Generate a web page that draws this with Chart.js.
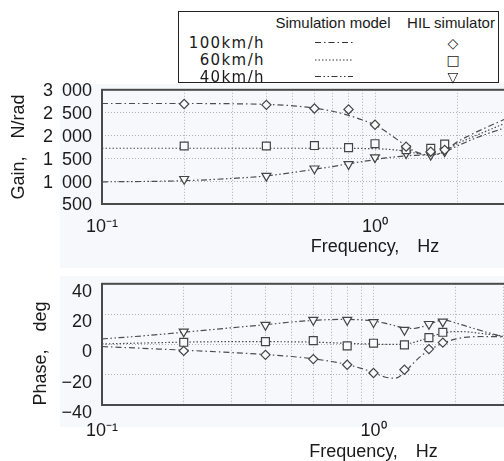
<!DOCTYPE html>
<html>
<head>
<meta charset="utf-8">
<script src="https://cdn.jsdelivr.net/npm/chart.js@4.4.0/dist/chart.umd.min.js"></script>
<style>
  body { margin: 0; width: 504px; height: 461px; overflow: hidden; position: relative; background: #fff; font-family: "Liberation Sans", Arial, sans-serif; color: #1a1a1a; }
  .tint { position: absolute; left: 60px; width: 444px; background: #f6f8fb; }
  .wrap { position: absolute; left: 0; }
  #legend { position: absolute; left: 178px; top: 11px; width: 319px; height: 70px; border: 1px solid #222; background: #fff; }
  #legend span { position: absolute; white-space: nowrap; line-height: 1; }
  .head { font-size: 15px; transform: translate(-50%, -50%); }
  .speed { font-family: "DejaVu Sans", sans-serif; font-size: 15px; letter-spacing: 1.4px; transform: translate(-100%, -50%); }
  .mark { font-family: "DejaVu Sans", sans-serif; font-size: 14px; transform: translate(-50%, -50%); }
  #legendLines { position: absolute; left: 130px; top: 0; }
</style>
</head>
<body>
<div class="tint" style="top:84px;height:184px"></div>
<div class="tint" style="top:276px;height:151px"></div>
<div class="wrap" style="top:69px"><canvas id="gainChart" width="660" height="191"></canvas></div>
<div class="wrap" style="top:263px"><canvas id="phaseChart" width="660" height="202"></canvas></div>
<div id="legend">
  <span class="head" style="left:154px;top:10px">Simulation model</span>
  <span class="head" style="left:272px;top:10px">HIL simulator</span>
  <canvas id="legendLines" width="50" height="70"></canvas>
</div>
<script>
//frequencies, Hz
const simFreq = [0.1, 0.15, 0.2, 0.3, 0.4, 0.5, 0.6, 0.7, 0.8, 0.9, 1.0, 1.1, 1.2, 1.3, 1.4, 1.5, 1.6, 1.7, 1.8, 2.0, 2.2, 2.5, 3.0];
const hilFreq = [0.2, 0.4, 0.6, 0.8, 1.0, 1.3, 1.6, 1.8];
const speeds = ["100km/h", "60km/h", "40km/h"];
const markGlyphs = ["\u25C7", "\u25A1", "\u25BD"];

//gain, N/rad - simulation model
const gainSim100 = [2700, 2700, 2700, 2695, 2680, 2650, 2600, 2530, 2440, 2340, 2230, 2080, 1920, 1770, 1650, 1590, 1570, 1590, 1650, 1860, 1990, 2150, 2360];
const gainSim60 = [1720, 1720, 1720, 1720, 1720, 1720, 1720, 1720, 1720, 1715, 1710, 1700, 1680, 1650, 1615, 1585, 1575, 1595, 1650, 1820, 1930, 2070, 2270];
const gainSim40 = [985, 995, 1010, 1060, 1115, 1190, 1260, 1320, 1380, 1430, 1470, 1510, 1535, 1555, 1565, 1570, 1575, 1600, 1640, 1770, 1880, 2010, 2170];
//gain - HIL simulator
const gainHil100 = [2690, 2670, 2590, 2570, 2235, 1755, 1645, 1685];
const gainHil60 = [1770, 1770, 1780, 1735, 1820, 1690, 1720, 1810];
const gainHil40 = [1045, 1115, 1275, 1370, 1520, 1610, 1575, 1650];

//phase, deg - simulation model
const phaseSim100 = [-1.4, -2.8, -3.8, -5.4, -6.7, -8, -9.5, -11.3, -13.3, -15.8, -18.5, -21.5, -22.3, -18.5, -12.5, -7.5, -3.8, -1.3, 0.8, 3.5, 4.8, 5.2, 5];
const phaseSim60 = [0.3, 1, 1.5, 1.8, 1.8, 1.7, 1.5, 1.1, 0.7, 0.4, 0.2, 0, 0, 0.3, 1.2, 2.8, 4.5, 6.2, 7.5, 8.5, 8.3, 7.2, 5.5];
const phaseSim40 = [3.6, 6, 8, 11, 13, 14.8, 15.8, 16.4, 16.5, 16.2, 15.4, 14, 12.3, 10.8, 10.5, 11.5, 13.2, 15, 16.2, 14.3, 12, 9, 5];
//phase - HIL simulator
const phaseHil100 = [-4.3, -6.9, -9.7, -13.4, -18.9, -16.7, -3.1, 1.2];
const phaseHil60 = [1.4, 1.8, 2.5, -1, 0.8, -0.3, 4.5, 8];
const phaseHil40 = [8.4, 12.8, 16.1, 16.1, 14.6, 9.5, 13.4, 15];

//tick values
const freqTicks = [0.1, 0.2, 0.3, 0.4, 0.5, 0.6, 0.7, 0.8, 0.9, 1, 2, 3, 4, 5, 6, 7, 8, 9, 10];
const gainTicks = [500, 1000, 1500, 2000, 2500, 3000];
const phaseTicks = [-40, -20, 0, 20, 40];

//line styles per speed
const dashes = [[6, 3, 1.5, 3], [1.5, 2], [6, 2.5, 1.5, 2.5, 1.5, 2.5]];
const pointStyles = ["rectRot", "rect", "triangle"];
const pointSizes = [4.6, 5.6, 5.2];
const pointTurns = [0, 0, 180];

Chart.defaults.font.family = '"Liberation Sans", Arial, sans-serif';
Chart.defaults.color = "#1a1a1a";

const supDigits = { "-": "\u207B", "0": "\u2070", "1": "\u00B9" };
function decadeLabel(v) {
  if (Math.abs(v - 0.1) < 1e-9) return "10" + supDigits["-"] + supDigits["1"];
  if (Math.abs(v - 1) < 1e-9) return "10" + supDigits["0"];
  return "";
}

//plot frame
const frame = {
  id: "frame",
  afterDraw(chart) {
    const a = chart.chartArea;
    const ctx = chart.ctx;
    ctx.save();
    ctx.strokeStyle = "#4a4a4a";
    ctx.lineWidth = 2;
    ctx.strokeRect(a.left, a.top, a.right - a.left, a.bottom - a.top);
    ctx.restore();
  },
};

function buildDatasets(sims, hils) {
  const sets = [];
  sims.forEach((vals, i) => {
    sets.push({
      label: speeds[i] + " sim",
      data: simFreq.map((f, k) => ({ x: f, y: vals[k] })),
      borderColor: "#4d4d4d",
      borderWidth: 1.2,
      borderDash: dashes[i],
      pointRadius: 0,
      cubicInterpolationMode: "monotone",
      order: 2,
    });
  });
  hils.forEach((vals, i) => {
    sets.push({
      label: speeds[i] + " HIL",
      data: hilFreq.map((f, k) => ({ x: f, y: vals[k] })),
      showLine: false,
      pointStyle: pointStyles[i],
      pointRadius: pointSizes[i],
      pointRotation: pointTurns[i],
      pointBorderColor: "#444",
      pointBackgroundColor: "#f8f9fb",
      pointBorderWidth: 1.2,
      order: 1,
    });
  });
  return sets;
}

function freqAxis(labelPad, axisHeight) {
  return {
    type: "logarithmic",
    min: 0.1,
    max: 10,
    afterBuildTicks: (s) => { s.ticks = freqTicks.map((v) => ({ value: v })); },
    afterFit: (s) => { s.height = axisHeight; },
    grid: { color: "#b0b0b0", lineWidth: 1, drawTicks: false },
    border: { display: false, dash: [1, 2] },
    ticks: { autoSkip: false, maxRotation: 0, padding: labelPad, font: { size: 18 }, callback: decadeLabel },
    title: { display: true, text: "Frequency,\u2003Hz", font: { size: 18 }, padding: { top: 0, bottom: 2 } },
  };
}

function valueAxis(min, max, ticks, fmt, title, titlePad, labelOffset) {
  return {
    min: min,
    max: max,
    afterBuildTicks: (s) => { s.ticks = ticks.map((v) => ({ value: v })); },
    afterFit: (s) => { s.width = 102; },
    grid: { color: "#b0b0b0", lineWidth: 1, drawTicks: false },
    border: { display: false, dash: [1, 2] },
    ticks: { autoSkip: false, padding: 10, labelOffset: labelOffset, font: { size: 18 }, callback: fmt },
    title: { display: true, text: title, font: { size: 18 }, padding: { top: titlePad, bottom: 0 } },
  };
}

function makeChart(id, sims, hils, yAxis, labelPad, axisHeight) {
  return new Chart(document.getElementById(id), {
    type: "line",
    data: { datasets: buildDatasets(sims, hils) },
    options: {
      responsive: false,
      animation: false,
      devicePixelRatio: 1,
      layout: { padding: { top: 6, right: 4, left: 0, bottom: 0 } },
      plugins: { legend: { display: false }, tooltip: { enabled: false } },
      scales: { x: freqAxis(labelPad, axisHeight), y: yAxis },
    },
    plugins: [frame],
  });
}

const gainChart = makeChart(
  "gainChart",
  [gainSim100, gainSim60, gainSim40],
  [gainHil100, gainHil60, gainHil40],
  valueAxis(500, 3000, gainTicks, (v) => (v >= 1000 ? Math.floor(v / 1000) + "\u2002" + String(v % 1000).padStart(3, "0") : String(v)), "Gain,\u2003N/rad", 8, 1.5),
  12,
  56
);

const phaseChart = makeChart(
  "phaseChart",
  [phaseSim100, phaseSim60, phaseSim40],
  [phaseHil100, phaseHil60, phaseHil40],
  valueAxis(-40, 40, phaseTicks, (v) => (v < 0 ? "\u2212" + -v : String(v)), "Phase,\u2003deg\u2003", 30, 8),
  15,
  60
);

//legend rows
const legend = document.getElementById("legend");
const rowY = [30.5, 48, 64.5];
const lctx = document.getElementById("legendLines").getContext("2d");
lctx.strokeStyle = "#333";
lctx.lineWidth = 1.2;
speeds.forEach((s, i) => {
  const name = document.createElement("span");
  name.className = "speed";
  name.style.left = "86px";
  name.style.top = rowY[i] + "px";
  name.textContent = s;
  legend.appendChild(name);

  const mark = document.createElement("span");
  mark.className = "mark";
  mark.style.left = "274px";
  mark.style.top = rowY[i] + "px";
  mark.textContent = markGlyphs[i];
  legend.appendChild(mark);

  lctx.setLineDash(dashes[i]);
  lctx.beginPath();
  lctx.moveTo(6, rowY[i]);
  lctx.lineTo(44, rowY[i]);
  lctx.stroke();
});
</script>
</body>
</html>
